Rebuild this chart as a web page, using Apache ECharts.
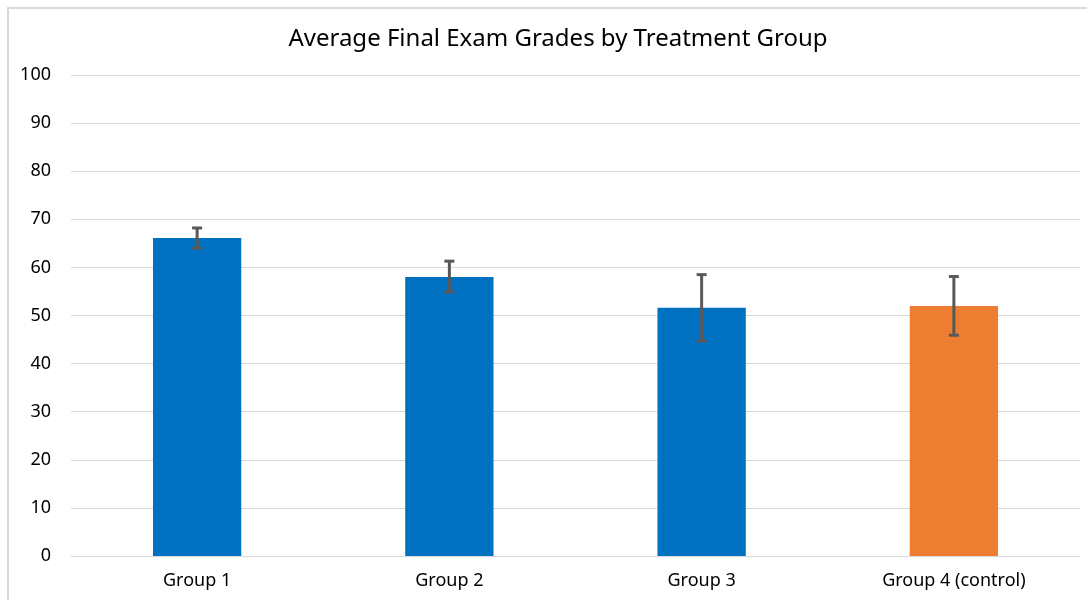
<!DOCTYPE html>
<html>
<head>
    <meta charset="utf-8">
    <title>Average Final Exam Grades</title>
    <script src="https://cdn.jsdelivr.net/npm/echarts@6/dist/echarts.min.js"></script>
    <style>
        body { margin: 0; background: #fff; }
        #frame { position: absolute; left: 7px; top: 7px; width: 1090px; height: 600px; border: 2px solid #d9d9d9; box-sizing: border-box; }
        #main { position: absolute; left: 0; top: 0; width: 1087px; height: 600px; }
    </style>
</head>
<body>
    <div id="frame"></div>
    <div id="main"></div>
    <script type="text/javascript">
        var groups = ["Group 1", "Group 2", "Group 3", "Group 4 (control)"];
        var grades = [66.1, 58.0, 51.6, 52.0];
        var errLow = [64.0, 54.9, 44.7, 45.9];
        var errHigh = [68.2, 61.3, 58.5, 58.1];
        var yTicks = [0, 10, 20, 30, 40, 50, 60, 70, 80, 90, 100];

        var barColors = ["#0070C0", "#0070C0", "#0070C0", "#ED7D31"];
        var font = "Noto Sans";

        var myChart = echarts.init(document.getElementById('main'));

        var errData = [];
        for (i = 0; i < groups.length; i++) {
            errData.push([i, errLow[i], errHigh[i]]);
        }

        option = {
            animation: false,
            title: {
                text: 'Average Final Exam Grades by Treatment Group',
                left: 553,
                textAlign: 'center',
                top: 22,
                textStyle: { fontFamily: font, fontSize: 24, fontWeight: 'normal', color: '#000' }
            },
            grid: { left: 71, right: 7, top: 75, bottom: 44 },
            xAxis: {
                type: 'category',
                data: groups,
                axisLine: { lineStyle: { color: '#d9d9d9', width: 1 } },
                axisTick: { show: false },
                axisLabel: { fontFamily: font, fontSize: 18, color: '#000', margin: 16 }
            },
            yAxis: {
                type: 'value',
                min: yTicks[0],
                max: yTicks[yTicks.length - 1],
                interval: 10,
                splitLine: { lineStyle: { color: '#d9d9d9', width: 1 } },
                axisLabel: { fontFamily: font, fontSize: 18, color: '#000', margin: 20 }
            },
            series: [
                {
                    type: 'bar',
                    barWidth: '35%',
                    data: grades.map(function (v, i) {
                        return { value: v, itemStyle: { color: barColors[i] } };
                    })
                },
                {
                    type: 'custom',
                    data: errData,
                    z: 10,
                    renderItem: function (params, api) {
                        var lo = api.coord([api.value(0), api.value(1)]);
                        var hi = api.coord([api.value(0), api.value(2)]);
                        var w = 5;
                        var st = { stroke: '#595959', lineWidth: 3 };
                        return {
                            type: 'group',
                            children: [
                                { type: 'line', shape: { x1: hi[0], y1: hi[1], x2: lo[0], y2: lo[1] }, style: st },
                                { type: 'line', shape: { x1: hi[0] - w, y1: hi[1], x2: hi[0] + w, y2: hi[1] }, style: st },
                                { type: 'line', shape: { x1: lo[0] - w, y1: lo[1], x2: lo[0] + w, y2: lo[1] }, style: st }
                            ]
                        };
                    }
                }
            ]
        };
        myChart.setOption(option);
    </script>
</body>
</html>
